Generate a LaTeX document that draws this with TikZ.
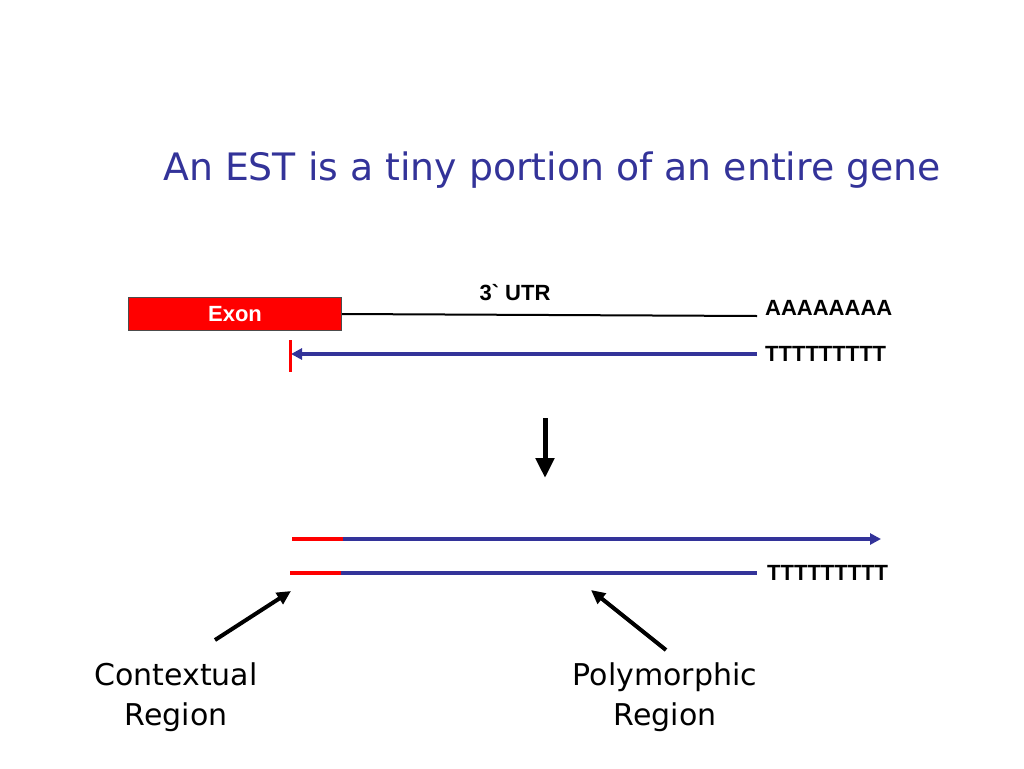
\documentclass[tikz,border=0pt]{standalone}
\usepackage{fontspec}
\setmainfont{Liberation Sans}
\newfontfamily\plainfont{Liberation Sans}
\newfontfamily\titlefont{DejaVu Sans}
\usetikzlibrary{arrows.meta}
\definecolor{navy}{RGB}{51,51,153}
\definecolor{exred}{RGB}{255,0,0}
\begin{document}
\begin{tikzpicture}[x=1pt,y=-1pt,
  lbl/.style={font=\plainfont\fontsize{22}{24}\selectfont\bfseries, inner sep=0pt},
  big/.style={font=\titlefont\fontsize{30}{40}\selectfont, align=center, inner sep=0pt},
  bluel/.style={draw=navy, line width=4pt},
  redl/.style={draw=exred, line width=4pt},
  blk/.style={draw=black, line width=5pt, -{Triangle[length=20pt,width=18pt]}}]
\useasboundingbox (0,0) rectangle (1024,768);
\node[font=\titlefont\fontsize{37.8}{40}\selectfont, text=navy, inner sep=0pt] (title) at (552,170) {An EST is a tiny portion of an entire gene};
% exon
\node[draw=black!70, fill=exred, minimum width=213pt, minimum height=33pt, inner sep=0pt, anchor=north west, line width=1pt] (exon) at (128,297) {};
\node[lbl, text=white] (exont) at (exon.center) {Exon};
\coordinate (utrend) at (757,316);
\draw[black, line width=2pt] (exon.east) -- (utrend);
\node[lbl] (utr) at (515,293) {3` UTR};
\node[lbl, anchor=west] (aaa) at (765,308) {AAAAAAAA};
% blue reverse strand
\coordinate (bs) at (757,354);
\coordinate (be) at (291,354);
\draw[bluel, -{Triangle[length=11pt,width=11pt]}] (bs) -- (be);
\coordinate (tt) at (290,340);
\coordinate (tb) at (290,372);
\draw[redl, line width=3pt] (tt) -- (tb);
\node[lbl, anchor=west] (ttt1) at (765,354) {TTTTTTTTT};
% down arrow
\coordinate (da) at (545,418);
\coordinate (db) at (545,478);
\draw[blk] (da) -- (db);
% lower strands
\coordinate (r1a) at (292,539);
\coordinate (r1b) at (343,539);
\coordinate (b1e) at (881,539);
\draw[redl] (r1a) -- (r1b);
\draw[bluel, -{Triangle[length=11pt,width=11pt]}] (r1b) -- (b1e);
\coordinate (r2a) at (290,573);
\coordinate (r2b) at (341,573);
\coordinate (b2e) at (757,573);
\draw[redl] (r2a) -- (r2b);
\draw[bluel] (r2b) -- (b2e);
\node[lbl, anchor=west] (ttt2) at (767,573) {TTTTTTTTT};
% labels
\node[big] (ctx) at (176,697) {Contextual\\Region};
\node[big] (poly) at (665,697) {Polymorphic\\Region};
\coordinate (c1) at (215,640);
\coordinate (c2) at (291,591);
\coordinate (p1) at (666,650);
\coordinate (p2) at (591,590);
\draw[draw=black, line width=4pt, -{Triangle[length=14pt,width=13pt]}] (c1) -- (c2);
\draw[draw=black, line width=4pt, -{Triangle[length=14pt,width=13pt]}] (p1) -- (p2);
\end{tikzpicture}
\end{document}
